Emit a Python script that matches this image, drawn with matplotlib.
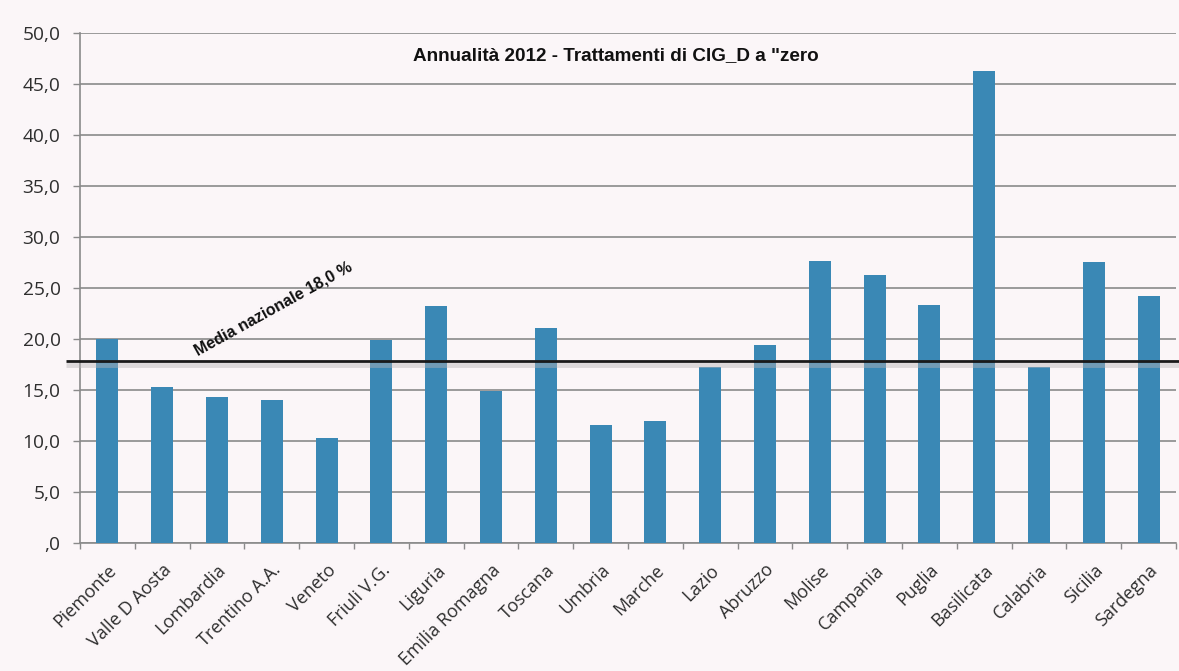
import matplotlib
matplotlib.use("Agg")
import matplotlib.pyplot as plt
import numpy as np

regions = ["Piemonte", "Valle D Aosta", "Lombardia", "Trentino A.A.", "Veneto",
           "Friuli V.G.", "Liguria", "Emilia Romagna", "Toscana", "Umbria",
           "Marche", "Lazio", "Abruzzo", "Molise", "Campania", "Puglia",
           "Basilicata", "Calabria", "Sicilia", "Sardegna"]
values = [20.0, 15.3, 14.3, 14.0, 10.3, 19.9, 23.2, 14.9, 21.1, 11.6,
          12.0, 17.3, 19.4, 27.6, 26.3, 23.3, 46.3, 17.3, 27.5, 24.2]
national_avg = 17.8
avg_label = "Media nazionale 18,0 %"
title = "Annualità 2012 - Trattamenti di CIG_D a \"zero"
yticks = [0, 5, 10, 15, 20, 25, 30, 35, 40, 45, 50]
ytick_labels = [",0", "5,0", "10,0", "15,0", "20,0", "25,0", "30,0", "35,0", "40,0", "45,0", "50,0"]

bg = "#fbf6f8"
bar_color = "#3a88b5"
grid_color = "#8a8a8a"

fig = plt.figure(figsize=(11.79, 6.71), dpi=100, facecolor=bg)
ax = fig.add_axes([80/1179, 1-543/671, 1096/1179, 510/671])
ax.set_facecolor(bg)

x = np.arange(len(regions))
ax.set_xlim(-0.5, len(regions) - 0.5)
ax.set_ylim(0, 50)

ax.set_yticks(yticks)
ax.set_yticklabels(ytick_labels, fontfamily="Open Sans", fontsize=13.8, color="#2e2e2e")
ax.yaxis.grid(True, color=grid_color, linewidth=1.2)
ax.set_axisbelow(True)
ax.tick_params(axis="y", length=5, width=1.0, color=grid_color, pad=9)

ax.bar(x, values, width=0.4, color=bar_color, zorder=3)

# x ticks
ax.set_xticks(x)
ax.set_xticklabels(regions, fontfamily="Open Sans", fontsize=13, color="#2e2e2e")
ax.tick_params(axis="x", which="major", length=0, pad=13)
for lab in ax.get_xticklabels():
    lab.set_rotation(45)
    lab.set_ha("right")
    lab.set_rotation_mode("anchor")
ax.set_xticks(np.arange(-0.5, len(regions) + 0.5, 1), minor=True)
ax.tick_params(axis="x", which="minor", length=4, width=1.0, color=grid_color)

for s in ["top", "right"]:
    ax.spines[s].set_visible(False)
for s in ["left", "bottom"]:
    ax.spines[s].set_color(grid_color)
    ax.spines[s].set_linewidth(1.2)

# national average line with soft shadow
trans = ax.get_yaxis_transform()
ax.plot([-0.013, 1.01], [national_avg - 0.3, national_avg - 0.3], transform=trans,
        color="#b8b4b6", alpha=0.45, linewidth=3.5, clip_on=False, zorder=4,
        solid_capstyle="butt")
ax.plot([-0.013, 1.01], [national_avg, national_avg], transform=trans,
        color="#1a1a1a", linewidth=2, clip_on=False, zorder=5, solid_capstyle="butt")

ax.text(1.68, national_avg + 0.25, avg_label, rotation=29, rotation_mode="anchor",
        ha="left", va="bottom", fontfamily="Liberation Sans", fontweight="bold",
        fontsize=11.5, color="#111111", zorder=6)

ax.text(0.4885, 0.955, title, transform=ax.transAxes, ha="center", va="center",
        fontfamily="Liberation Sans", fontweight="bold", fontsize=13.6, color="#111111")

fig.savefig("out.png", dpi=100, facecolor=bg)
